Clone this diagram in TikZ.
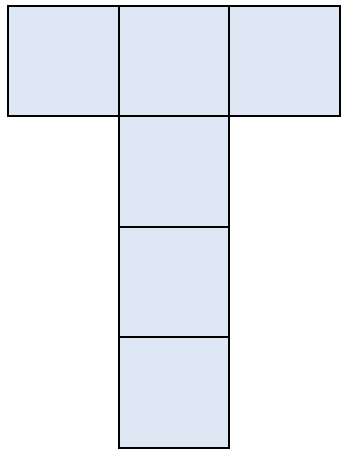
\documentclass[tikz,border=0pt]{standalone}
\definecolor{TCellFill}{HTML}{DEE8F5}

\begin{document}
\begin{tikzpicture}[
    x=0.02cm,
    y=-0.02cm,
    cell/.style={draw=black, fill=TCellFill, line width=1.15pt,
                 minimum width=2.21cm, minimum height=2.21cm,
                 inner sep=0pt}
]
\useasboundingbox (0,0) rectangle (342,451);

% Top bar of the T: three cells side by side.
\foreach \x/\n in {63.5/1,174/2,284.5/3} {
    \node[cell] (top\n) at (\x,61) {};
}

% Stem of the T hangs below the middle cell.
\foreach \y/\n in {171.5/1,282/2,392.5/3} {
    \node[cell] (stem\n) at (174,\y) {};
}
\end{tikzpicture}
\end{document}
